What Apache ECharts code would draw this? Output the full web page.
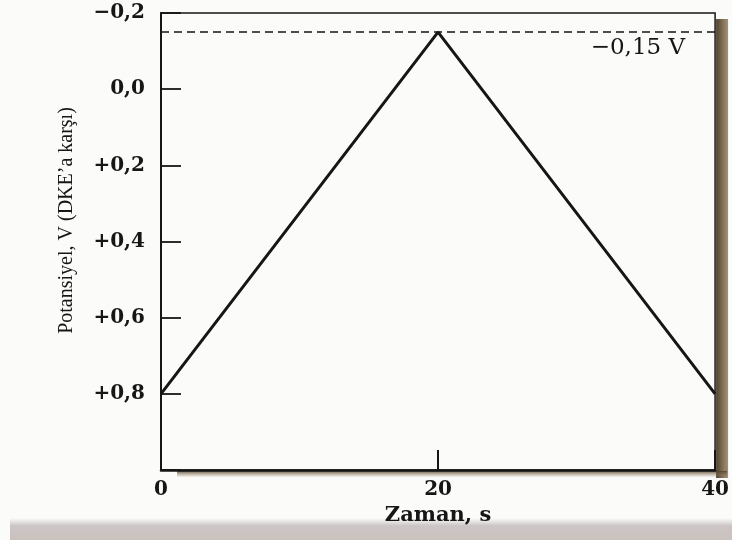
<!DOCTYPE html>
<html>
<head>
<meta charset="utf-8">
<script src="https://cdn.jsdelivr.net/npm/echarts@6/dist/echarts.min.js"></script>
<style>
  html, body { margin: 0; padding: 0; background: #fbfbf9; }
  #chart { width: 732px; height: 540px; }
</style>
</head>
<body>
<div id="chart"></div>
<script>
// Triangular potential sweep: time (s) vs. applied potential (V vs. SCE)
const timeValues = [0, 20, 40];
const potentialValues = [0.8, -0.15, 0.8];
const switchPotential = -0.15;
const switchLabel = '\u22120,15 V';
const xTitle = 'Zaman, s';
const yTitle = 'Potansiyel, V (DKE\u2019a kar\u015f\u0131)';

const ink = '#161616';
const serifBold = { fontFamily: 'DejaVu Serif', fontWeight: 'bold', color: ink };

function potentialLabel(v) {
  const r = Math.round(v * 10) / 10;
  if (r > 0.9) return '';
  const body = Math.abs(r).toFixed(1).replace('.', ',');
  if (r < 0) return '\u2212' + body;
  if (r > 0) return '+' + body;
  return body;
}

const chart = echarts.init(document.getElementById('chart'));
chart.setOption({
  backgroundColor: '#fbfbf9',
  animation: false,
  grid: {
    left: 161, right: 11, top: 13, bottom: 70,
    show: true, borderColor: ink, borderWidth: 1.5, backgroundColor: 'transparent'
  },
  xAxis: {
    type: 'value', min: 0, max: 40, interval: 20,
    name: xTitle, nameLocation: 'middle', nameGap: 34,
    nameTextStyle: Object.assign({ fontSize: 21 }, serifBold),
    axisLine: { show: true, onZero: false, lineStyle: { color: ink, width: 2.5 } },
    axisTick: { show: true, inside: true, length: 20, lineStyle: { color: ink, width: 2 } },
    axisLabel: Object.assign({ fontSize: 20, margin: 10 }, serifBold),
    splitLine: { show: false }
  },
  yAxis: {
    type: 'value', inverse: true, min: -0.2, max: 1.0, interval: 0.2,
    name: yTitle, nameLocation: 'middle', nameGap: 84, nameRotate: 90,
    nameTextStyle: { fontFamily: 'Liberation Serif', fontSize: 20, color: ink, padding: [0, 0, 0, 42] },
    axisLine: { show: true, onZero: false, lineStyle: { color: ink, width: 2 } },
    axisTick: { show: true, inside: true, length: 20, lineStyle: { color: ink, width: 1.8 } },
    axisLabel: Object.assign({ fontSize: 20, margin: 16, formatter: potentialLabel }, serifBold),
    splitLine: { show: false }
  },
  series: [{
    type: 'line',
    data: timeValues.map((t, i) => [t, potentialValues[i]]),
    symbol: 'none',
    lineStyle: { color: ink, width: 3 },
    markLine: {
      silent: true,
      symbol: 'none',
      data: [{ yAxis: switchPotential }],
      lineStyle: { color: ink, width: 1.5, type: [8, 5] },
      label: {
        show: true, position: 'insideEndBottom', formatter: switchLabel,
        fontFamily: 'DejaVu Serif', fontSize: 23, color: ink, distance: [30, 4]
      }
    }
  }]
});

// Paper edge shading along the right border and under the time axis
const corner = chart.convertToPixel({ gridIndex: 0 }, [40, 1.0]);
const origin = chart.convertToPixel({ gridIndex: 0 }, [0, 1.0]);
const topRight = chart.convertToPixel({ gridIndex: 0 }, [40, -0.2]);
chart.setOption({
  graphic: [
    {
      type: 'rect', silent: true, z: -1,
      shape: { x: corner[0] + 1, y: topRight[1] + 6, width: 12, height: corner[1] - topRight[1] + 2 },
      style: { fill: { type: 'linear', x: 0, y: 0, x2: 1, y2: 0,
        colorStops: [{ offset: 0, color: '#4f4330' }, { offset: 0.5, color: '#7d6c50' }, { offset: 1, color: '#a0937c' }] } }
    },
    {
      type: 'rect', silent: true, z: -1,
      shape: { x: origin[0] + 16, y: origin[1] + 1, width: corner[0] - origin[0] - 4, height: 6 },
      style: { fill: { type: 'linear', x: 0, y: 0, x2: 0, y2: 1,
        colorStops: [{ offset: 0, color: 'rgba(80,64,40,0.85)' }, { offset: 1, color: 'rgba(150,130,100,0.1)' }] } }
    },
    {
      type: 'rect', silent: true, z: -1,
      shape: { x: 10, y: 518, width: 722, height: 22 },
      style: { fill: { type: 'linear', x: 0, y: 0, x2: 0, y2: 1,
        colorStops: [{ offset: 0, color: 'rgba(200,194,196,0)' }, { offset: 0.35, color: 'rgba(196,188,190,0.85)' }, { offset: 1, color: '#c9c2bc' }] } }
    }
  ]
});
</script>
</body>
</html>
